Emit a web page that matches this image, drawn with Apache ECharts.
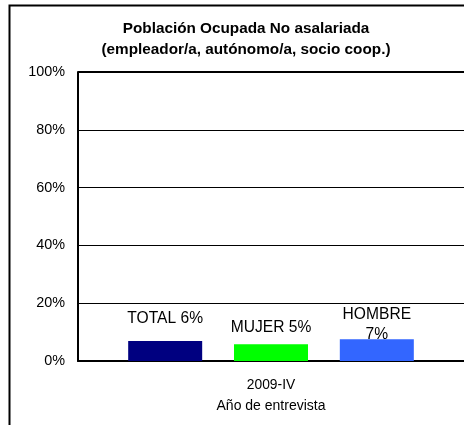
<!DOCTYPE html>
<html><head><meta charset="utf-8">
<script src="https://cdn.jsdelivr.net/npm/echarts@6/dist/echarts.min.js"></script>
<style>html,body{margin:0;padding:0;background:#fff}#c{width:464px;height:425px}</style>
</head><body><div id="c"></div>
<script>
const categories = ['2009-IV'];
const seriesNames = ['TOTAL', 'MUJER', 'HOMBRE'];
const seriesValues = [6.9, 5.8, 7.5];
const labelTexts = ['TOTAL 6%', 'MUJER 5%', 'HOMBRE\n7%'];
const yTicks = [0, 20, 40, 60, 80, 100];
const colors = ['#000080', '#00FF00', '#3366FF'];
const labelDist = [12, 7, -5];

const FONT = 'Liberation Sans, Arial, sans-serif';
const chart = echarts.init(document.getElementById('c'), null, {renderer: 'canvas'});
chart.setOption({
  animation: false,
  title: {
    text: 'Población Ocupada No asalariada\n(empleador/a, autónomo/a, socio coop.)',
    left: 241, textAlign: 'center', top: 13,
    textStyle: {fontFamily: FONT, fontSize: 15.3, fontWeight: 'bold', color: '#000', lineHeight: 21}
  },
  graphic: [{
    type: 'rect', shape: {x: 9.5, y: 5.5, width: 470, height: 440},
    style: {fill: 'none', stroke: '#000', lineWidth: 2}, silent: true
  }, {
    type: 'line', shape: {x1: 78, y1: 72, x2: 466, y2: 72},
    style: {stroke: '#000', lineWidth: 2}, silent: true
  }],
  grid: {left: 78, top: 72, width: 388, bottom: 64, containLabel: false},
  xAxis: {
    type: 'category', data: categories,
    name: 'Año de entrevista', nameLocation: 'middle', nameGap: 38,
    nameTextStyle: {fontFamily: FONT, fontSize: 14, color: '#000'},
    axisLine: {lineStyle: {color: '#000', width: 2}},
    axisTick: {show: false},
    axisLabel: {fontFamily: FONT, fontSize: 13.8, color: '#000', margin: 17}
  },
  yAxis: {
    type: 'value', min: yTicks[0], max: yTicks[yTicks.length - 1], interval: 20,
    axisLine: {show: true, lineStyle: {color: '#000', width: 2}},
    axisTick: {show: false},
    splitLine: {lineStyle: {color: '#000', width: 1}},
    axisLabel: {fontFamily: FONT, fontSize: 14.4, color: '#000', margin: 13, formatter: v => v + '%'}
  },
  series: seriesNames.map((n, i) => ({
    type: 'bar', name: n,
    data: [seriesValues[i]],
    barWidth: 74, barGap: '43%',
    itemStyle: {color: colors[i]},
    label: {
      show: true, position: 'top', distance: labelDist[i],
      formatter: labelTexts[i], fontFamily: FONT, fontSize: 15.6, color: '#000', lineHeight: 20
    }
  }))
});
</script></body></html>
